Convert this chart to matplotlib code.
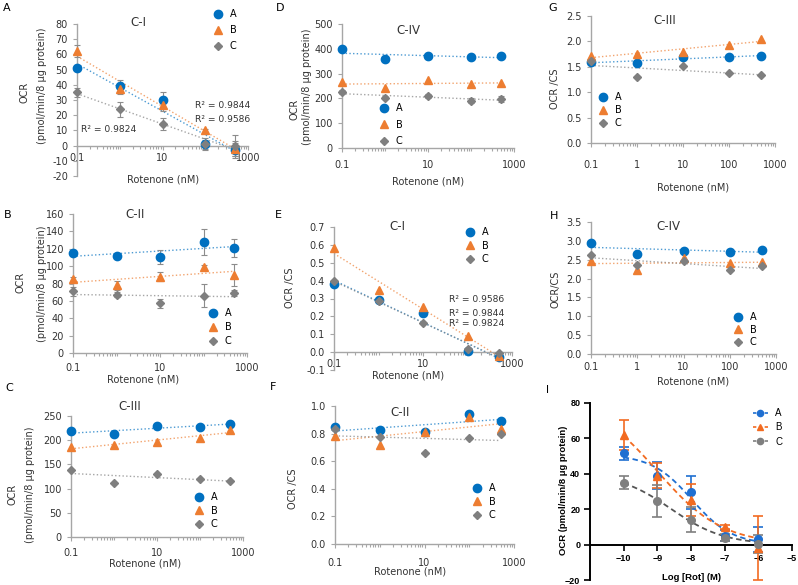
import numpy as np
import matplotlib
matplotlib.use("Agg")
import matplotlib.pyplot as plt
from matplotlib.ticker import FixedLocator, LogLocator, NullFormatter, FormatStrFormatter
from matplotlib.lines import Line2D

plt.rcParams["font.family"] = ["DejaVu Sans"]

W, H = 798, 585

# ---- data ----
rotenone = [0.1, 1, 10, 100, 500]          # nM
log_rot = [-10, -9, -8, -7, -6]            # log M
groups = ["A", "B", "C"]

# OCR (pmol/min/8 ug protein)
ocr_ci_a = [51, 39, 30, 1, -3]
ocr_ci_b = [62, 37, 27, 10, -2]
ocr_ci_c = [35, 24, 14, 1, 0]
ocr_ci_a_err = [2, 4, 5, 4, 5]
ocr_ci_b_err = [4, 3, 4, 1, 5]
ocr_ci_c_err = [3, 5, 4, 3, 7]
ci_r2 = ["R² = 0.9844", "R² = 0.9586", "R² = 0.9824"]

ocr_cii_a = [115, 112, 110, 128, 121]
ocr_cii_b = [85, 78, 88, 99, 90]
ocr_cii_c = [71, 67, 57, 66, 69]
ocr_cii_a_err = [3, 2, 8, 15, 10]
ocr_cii_b_err = [2, 5, 5, 2, 13]
ocr_cii_c_err = [5, 3, 5, 13, 3]

ocr_ciii_a = [218, 212, 230, 228, 234]
ocr_ciii_b = [186, 190, 196, 205, 222]
ocr_ciii_c = [139, 111, 131, 119, 115]

ocr_civ_a = [398, 357, 370, 366, 372]
ocr_civ_b = [265, 242, 273, 258, 263]
ocr_civ_c = [224, 203, 211, 190, 198]
ocr_civ_c_err = [8, 6, 8, 10, 12]

# OCR normalised to citrate synthase
cs_ci_a = [0.38, 0.29, 0.22, 0.005, -0.03]
cs_ci_b = [0.58, 0.35, 0.25, 0.09, -0.02]
cs_ci_c = [0.40, 0.285, 0.165, 0.015, -0.005]
cs_ci_r2 = ["R² = 0.9586", "R² = 0.9844", "R² = 0.9824"]

cs_cii_a = [0.845, 0.825, 0.81, 0.945, 0.89]
cs_cii_b = [0.78, 0.72, 0.815, 0.92, 0.83]
cs_cii_c = [0.83, 0.775, 0.66, 0.765, 0.80]

cs_ciii_a = [1.60, 1.57, 1.69, 1.69, 1.72]
cs_ciii_b = [1.72, 1.75, 1.80, 1.92, 2.05]
cs_ciii_c = [1.62, 1.29, 1.52, 1.38, 1.34]

cs_civ_a = [2.95, 2.64, 2.74, 2.71, 2.76]
cs_civ_b = [2.47, 2.23, 2.55, 2.40, 2.43]
cs_civ_c = [2.62, 2.36, 2.47, 2.22, 2.34]

# panel I, dose response
dr_a = [51.5, 39, 29.5, 5, 3]
dr_b = [62, 39, 25, 10, -2]
dr_c = [35, 24.5, 14, 4, 0.5]
dr_a_err = [3.5, 7.5, 9.5, 3, 7]
dr_b_err = [8.5, 7, 9, 1, 18]
dr_c_err = [3.5, 9, 7, 2, 5]

# ---- styling ----
XL_COLORS = ["#0070C0", "#ED7D31", "#7F7F7F"]
XL_MARKERS = ["o", "^", "D"]
XL_MS = [6, 6, 4.5]
SPINE = "#A6A6A6"
TXT = "#333333"
FS = 7
GP_COLORS = ["#1F6FD1", "#F26B21", "#7F7F7F"]
GP_LINES = ["#1F6FD1", "#F26B21", "#555555"]
ARIAL = ["Liberation Sans", "DejaVu Sans"]
OCR_LAB = ("OCR", "(pmol/min/8 μg protein)")


def rect(l, t, r, b):
    return [l / W, 1 - b / H, (r - l) / W, (b - t) / H]


def fxy(x, y):
    return x / W, 1 - y / H


fig = plt.figure(figsize=(W / 100, H / 100), dpi=100)

panels = [
    dict(letter="A", letter_xy=(3, 8), box=(77, 24, 248, 176), ylim=(-20, 80), ystep=10, yfmt="%d",
         series=(ocr_ci_a, ocr_ci_b, ocr_ci_c), errs=(ocr_ci_a_err, ocr_ci_b_err, ocr_ci_c_err),
         title="C-I", title_xy=(138, 22), ylab=OCR_LAB, ylab_xy=((25, 92), (42, 86)),
         xlab_xy=(163, 180), xt=[0.1, 10, 1000], xpad=2, leg=(213, 9), gap=17,
         r2=[(ci_r2[0], 195, 106), (ci_r2[1], 195, 120), (ci_r2[2], 81, 129)]),
    dict(letter="D", letter_xy=(276, 8), box=(342, 24, 514, 148), ylim=(0, 500), ystep=100, yfmt="%d",
         series=(ocr_civ_a, ocr_civ_b, ocr_civ_c), errs=(None, None, ocr_civ_c_err),
         title="C-IV", title_xy=(408, 30), ylab=OCR_LAB, ylab_xy=((294, 109), (307, 87)),
         xlab_xy=(428, 182), xt=[0.1, 10, 1000], xpad=6, leg=(379, 103), gap=17.5, r2=[]),
    dict(letter="G", letter_xy=(548, 8), box=(591, 16, 775, 143), ylim=(0, 2.5), ystep=0.5, yfmt="%.1f",
         series=(cs_ciii_a, cs_ciii_b, cs_ciii_c), errs=(None, None, None),
         title="C-III", title_xy=(665, 20), ylab=("OCR /CS",), ylab_xy=((555, 89),),
         xlab_xy=(693, 187), xt=[0.1, 1, 10, 100, 1000], xpad=9, leg=(598, 92), gap=14, r2=[]),
    dict(letter="B", letter_xy=(4, 215), box=(73, 214, 247, 353), ylim=(0, 160), ystep=20, yfmt="%d",
         series=(ocr_cii_a, ocr_cii_b, ocr_cii_c), errs=(ocr_cii_a_err, ocr_cii_b_err, ocr_cii_c_err),
         title="C-II", title_xy=(135, 215), ylab=OCR_LAB, ylab_xy=((21, 282), (42, 284)),
         xlab_xy=(143, 379), xt=[0.1, 10, 1000], xpad=4, leg=(208, 308), gap=15, r2=[]),
    dict(letter="E", letter_xy=(275, 215), box=(334, 227, 512, 370), ylim=(-0.1, 0.7), ystep=0.1, yfmt="%.1f",
         series=(cs_ci_a, cs_ci_b, cs_ci_c), errs=(None, None, None),
         title="C-I", title_xy=(397, 226), ylab=("OCR /CS",), ylab_xy=((290, 288),),
         xlab_xy=(408, 376), xt=[0.1, 10, 1000], xpad=2, leg=(465, 227), gap=14.5,
         r2=[(cs_ci_r2[0], 449, 300), (cs_ci_r2[1], 449, 313), (cs_ci_r2[2], 449, 324)]),
    dict(letter="H", letter_xy=(550, 216), box=(591, 222, 776, 354), ylim=(0, 3.5), ystep=0.5, yfmt="%.1f",
         series=(cs_civ_a, cs_civ_b, cs_civ_c), errs=(None, None, None),
         title="C-IV", title_xy=(668, 227), ylab=("OCR/CS",), ylab_xy=((555, 289),),
         xlab_xy=(693, 381), xt=[0.1, 1, 10, 100, 1000], xpad=3, leg=(733, 312), gap=13.5, r2=[]),
    dict(letter="C", letter_xy=(5, 388), box=(71, 416, 243, 537), ylim=(0, 250), ystep=50, yfmt="%d",
         series=(ocr_ciii_a, ocr_ciii_b, ocr_ciii_c), errs=(None, None, None),
         title="C-III", title_xy=(130, 407), ylab=OCR_LAB, ylab_xy=((12, 494), (30, 485)),
         xlab_xy=(145, 564), xt=[0.1, 10, 1000], xpad=5, leg=(194, 492), gap=14.5, r2=[]),
    dict(letter="F", letter_xy=(270, 387), box=(335, 406, 514, 544), ylim=(0, 1.0), ystep=0.2, yfmt="%.1f",
         series=(cs_cii_a, cs_cii_b, cs_cii_c), errs=(None, None, None),
         title="C-II", title_xy=(400, 412), ylab=("OCR /CS",), ylab_xy=((293, 489),),
         xlab_xy=(410, 572), xt=[0.1, 10, 1000], xpad=7, leg=(472, 483), gap=14.5, r2=[]),
]

x = np.array(rotenone, dtype=float)
xs = np.logspace(np.log10(x.min()), np.log10(x.max()), 60)

for p in panels:
    ax = fig.add_axes(rect(*p["box"]))
    ax.set_xscale("log")
    ax.set_xlim(0.1, 1000)
    ax.set_ylim(*p["ylim"])
    for s in ("top", "right"):
        ax.spines[s].set_visible(False)
    for s in ("left", "bottom"):
        ax.spines[s].set_color(SPINE)
        ax.spines[s].set_linewidth(1.0)
    ax.spines["bottom"].set_position(("data", 0))

    ax.xaxis.set_major_locator(FixedLocator(p["xt"]))
    ax.set_xticklabels(["%g" % t for t in p["xt"]])
    ax.xaxis.set_minor_locator(LogLocator(base=10, subs=np.arange(1, 10)))
    ax.xaxis.set_minor_formatter(NullFormatter())
    lo, hi = p["ylim"]
    ax.set_yticks(np.arange(lo, hi + p["ystep"] / 2, p["ystep"]))
    ax.yaxis.set_major_formatter(FormatStrFormatter(p["yfmt"]))
    ax.tick_params(which="both", color=SPINE, labelsize=FS, labelcolor=TXT, width=0.8)
    ax.tick_params(which="major", length=3)
    ax.tick_params(which="minor", length=2)
    ax.tick_params(axis="x", pad=p["xpad"])

    handles = []
    for y, err, c, m, ms in zip(p["series"], p["errs"], XL_COLORS, XL_MARKERS, XL_MS):
        y = np.array(y, dtype=float)
        coeffs = np.polyfit(np.log10(x), y, 1)
        ax.plot(xs, np.polyval(coeffs, np.log10(xs)), ls=":", lw=1.0, color=c, alpha=0.7, zorder=2)
        ax.errorbar(x, y, yerr=err, fmt=m, color=c, ms=ms, ecolor="#8C8C8C", elinewidth=0.8,
                    capsize=2, capthick=0.8, zorder=3, clip_on=False)
        handles.append(Line2D([], [], ls="none", marker=m, color=c, ms=ms))

    ax.legend(handles, groups, loc="upper left", bbox_to_anchor=fxy(*p["leg"]),
              bbox_transform=fig.transFigure, frameon=False, fontsize=FS,
              handlelength=1.0, handletextpad=0.7, borderpad=0, borderaxespad=0,
              labelspacing=(p["gap"] - 11) / 9.7)

    fig.text(*fxy(*p["title_xy"]), p["title"], ha="center", va="center", fontsize=8.5, color=TXT)
    fig.text(*fxy(*p["letter_xy"]), p["letter"], ha="left", va="center", fontsize=8, color="black")
    fig.text(*fxy(*p["xlab_xy"]), "Rotenone (nM)", ha="center", va="center", fontsize=FS, color=TXT)
    for lab, (lx, ly) in zip(p["ylab"], p["ylab_xy"]):
        fig.text(*fxy(lx, ly), lab, ha="center", va="center", rotation=90, fontsize=FS, color=TXT)
    for txt, tx, ty in p["r2"]:
        fig.text(*fxy(tx, ty), txt, ha="left", va="center", fontsize=6.6, color=TXT)


# ---- panel I: dose response with sigmoid fits ----
def fit_inhibition(lx, y):
    # one-site inhibition curve, bottom fixed at 0, grid search over IC50 and slope
    best = None
    for lc in np.linspace(-10.5, -6.5, 161):
        for h in np.linspace(0.3, 2.5, 89):
            f = 1.0 / (1.0 + 10 ** ((lx - lc) * h))
            top = np.dot(f, y) / np.dot(f, f)
            sse = np.sum((y - top * f) ** 2)
            if best is None or sse < best[0]:
                best = (sse, top, lc, h)
    return best[1:]


axi = fig.add_axes(rect(590, 403, 792, 580))
axi.set_xlim(-11, -5)
axi.set_ylim(-20, 80)
for s in ("top", "right"):
    axi.spines[s].set_visible(False)
for s in ("left", "bottom"):
    axi.spines[s].set_linewidth(1.4)
    axi.spines[s].set_color("black")
axi.spines["bottom"].set_position(("data", 0))
axi.set_xticks(range(-10, -4))
axi.set_yticks(range(-20, 81, 20))
axi.tick_params(labelsize=6.5, width=1.2, length=4, pad=3)
for lbl in axi.get_xticklabels() + axi.get_yticklabels():
    lbl.set_fontweight("bold")
    lbl.set_family(ARIAL)

lx = np.array(log_rot, dtype=float)
lxs = np.linspace(lx.min(), lx.max(), 120)
gp_handles = []
for y, err, c, lc, m in zip((dr_a, dr_b, dr_c), (dr_a_err, dr_b_err, dr_c_err),
                            GP_COLORS, GP_LINES, ["o", "^", "o"]):
    y = np.array(y, dtype=float)
    top, ic, h = fit_inhibition(lx, y)
    axi.plot(lxs, top / (1.0 + 10 ** ((lxs - ic) * h)), ls=(0, (3, 2)), lw=1.3, color=lc, zorder=2)
    axi.errorbar(lx, y, yerr=err, fmt=m, color=c, ms=5.5, elinewidth=1.2, capsize=3.5,
                 capthick=1.2, zorder=3, clip_on=False)
    gp_handles.append(Line2D([], [], ls=(0, (2, 1.5)), lw=1.2, marker=m, ms=4.5, color=c))

leg = axi.legend(gp_handles, groups, loc="upper left", bbox_to_anchor=fxy(753, 408),
                 bbox_transform=fig.transFigure, frameon=False, fontsize=7,
                 handlelength=1.5, handletextpad=0.8, borderpad=0, borderaxespad=0, labelspacing=0.45)
for t in leg.get_texts():
    t.set_family(ARIAL)

fig.text(*fxy(546, 390), "I", ha="left", va="center", fontsize=8, family=ARIAL)
fig.text(*fxy(692, 577), "Log [Rot] (M)", ha="center", va="center", fontsize=6.8,
         fontweight="bold", family=ARIAL)
fig.text(*fxy(563, 490), "OCR (pmol/min/8 μg protein)", ha="center", va="center", rotation=90,
         fontsize=6.8, fontweight="bold", family=ARIAL)

fig.savefig("out.png", dpi=100)
